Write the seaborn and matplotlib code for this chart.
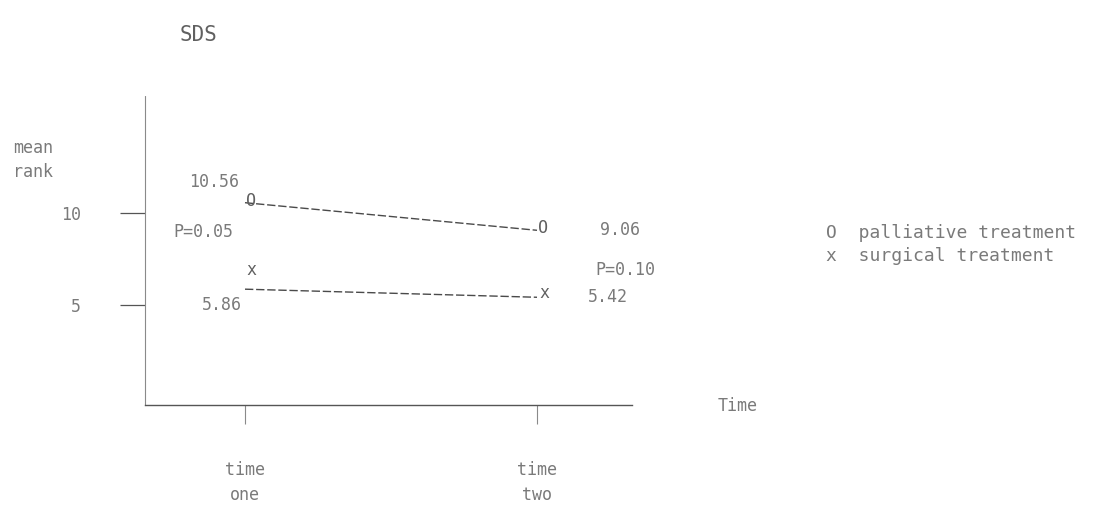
import matplotlib
matplotlib.use("Agg")
import matplotlib.pyplot as plt
import seaborn as sns
import pandas as pd

# ---- data ----
time_labels = ["time\none", "time\ntwo"]
time_pos = [1, 2]
groups = ["palliative treatment", "surgical treatment"]
palliative = [10.56, 9.06]
surgical = [5.86, 5.42]
p_values = ["P=0.05", "P=0.10"]
y_ticks = [5, 10]
title = "SDS"

sns.set_theme(style="white")
plt.rcParams["font.family"] = ["DejaVu Sans Mono", "DejaVu Sans"]

TXT = "#7a7a7a"
LINE = "#4a4a4a"

df = pd.DataFrame({
    "time": time_pos * 2,
    "rank": palliative + surgical,
    "group": [groups[0]] * 2 + [groups[1]] * 2,
})

fig = plt.figure(figsize=(11.11, 5.08), dpi=100)
ax = fig.add_axes([145 / 1111, 1 - 405 / 508, 487 / 1111, 310 / 508])

sns.lineplot(data=df, x="time", y="rank", hue="group", style="group",
             palette=[LINE, LINE], dashes=[(6, 2), (6, 2)], linewidth=1.0,
             legend=False, ax=ax)

ax.set_xlim(1 - 100 / 292, 2 + 95 / 292)
ax.set_ylim(5 - 100 / 18.4, 10 + 118 / 18.4)

for s in ["top", "right"]:
    ax.spines[s].set_visible(False)
ax.spines["left"].set_color("#8a8a8a")
ax.spines["left"].set_linewidth(0.8)
ax.spines["left"].set_linestyle((0, (2, 1)))
ax.spines["bottom"].set_color("#555555")
ax.spines["bottom"].set_linewidth(1.0)

ax.set_yticks(y_ticks)
ax.set_yticklabels([str(v) for v in y_ticks])
ax.set_xticks(time_pos)
ax.set_xticklabels(time_labels, linespacing=1.5)
ax.tick_params(axis="y", direction="out", length=18, width=0.9, color="#555555",
               pad=28, labelsize=12, labelcolor=TXT, left=True)
ax.tick_params(axis="x", direction="out", length=14, width=0.8, color="#8a8a8a",
               pad=26, labelsize=12, labelcolor=TXT, bottom=True)
ax.set_xlabel("")
ax.set_ylabel("")
ax.grid(False)

# series glyph markers (as in original typewriter plot)
mk = dict(textcoords="offset pixels", ha="center", va="center",
          color="#606060", fontsize=12)
for i, x in enumerate(time_pos):
    ax.annotate("O", (x, palliative[i]), xytext=(6, 2), **mk)
ax.annotate("x", (time_pos[0], surgical[0]), xytext=(6, 19), **mk)
ax.annotate("x", (time_pos[1], surgical[1]), xytext=(7, 4), **mk)

# value labels
lab = dict(textcoords="offset pixels", ha="center", va="center",
           color=TXT, fontsize=12)
ax.annotate(f"{palliative[0]:.2f}", (time_pos[0], palliative[0]), xytext=(-31, 21), **lab)
ax.annotate(f"{surgical[0]:.2f}", (time_pos[0], surgical[0]), xytext=(-23, -16), **lab)
ax.annotate(f"{palliative[1]:.2f}", (time_pos[1], palliative[1]), xytext=(83, 0), **lab)
ax.annotate(f"{surgical[1]:.2f}", (time_pos[1], surgical[1]), xytext=(71, 0), **lab)
ax.annotate(p_values[0], (time_pos[0], palliative[0]), xytext=(-42, -29), **lab)
ax.annotate(p_values[1], (time_pos[1], palliative[1]), xytext=(88, -40), **lab)

# axis titles / title
fig.text(13 / 1111, 1 - 160 / 508, "mean\nrank", ha="left", va="center",
         color=TXT, fontsize=12, linespacing=1.4)
fig.text(718 / 1111, 1 - 406 / 508, "Time", ha="left", va="center",
         color=TXT, fontsize=12)
fig.text(180 / 1111, 1 - 35 / 508, title, ha="left", va="center",
         color="#606060", fontsize=15)

# legend as typed text
fig.text(826 / 1111, 1 - 233 / 508, "O  " + groups[0], ha="left", va="center",
         color=TXT, fontsize=13)
fig.text(826 / 1111, 1 - 256 / 508, "x  " + groups[1], ha="left", va="center",
         color=TXT, fontsize=13)

fig.savefig("out.png", dpi=100)
